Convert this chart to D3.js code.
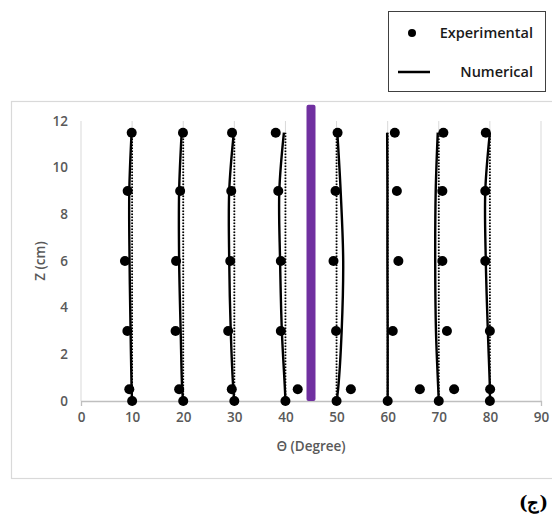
<!DOCTYPE html>
<html>
<head>
<meta charset="utf-8">
<script src="https://cdn.jsdelivr.net/npm/d3@7"></script>
<style>
  body { margin: 0; background: #fff; }
  svg { display: block; }
</style>
</head>
<body>
<svg id="chart"></svg>
<script>
// angles of each profile (degrees) and heights (cm)
const angles = [10, 20, 30, 40, 50, 60, 70, 80];
const zLevels = [0, 0.5, 3, 6, 9, 11.5];
const xTicks = [0, 10, 20, 30, 40, 50, 60, 70, 80, 90];
const yTicks = [0, 2, 4, 6, 8, 10, 12];

// experimental theta at each z level, one row per angle
const expTheta = [
    [10.0, 9.45, 9.07, 8.6, 9.13, 9.92],
    [20.0, 19.2, 18.5, 18.6, 19.4, 19.95],
    [30.0, 29.5, 28.8, 29.2, 29.4, 29.55],
    [40.0, 42.4, 39.1, 39.1, 38.6, 38.1],
    [50.0, 52.8, 49.9, 49.4, 49.8, 50.2],
    [60.0, 66.3, 61.0, 62.1, 61.8, 61.4],
    [70.0, 73.0, 71.6, 70.7, 70.7, 70.9],
    [80.0, 80.05, 80.0, 79.1, 79.1, 79.2]
];

// numerical theta at each z level
const numTheta = [
    [10.0, 9.9, 9.7, 9.5, 9.45, 9.9],
    [20.0, 19.8, 19.5, 19.2, 19.2, 19.7],
    [30.0, 29.8, 29.3, 29.0, 29.0, 29.9],
    [40.0, 39.9, 39.3, 38.95, 38.8, 39.7],
    [50.0, 50.3, 51.0, 51.3, 50.8, 50.15],
    [60.0, 60.0, 60.0, 59.95, 59.95, 59.9],
    [70.0, 69.9, 69.45, 69.3, 69.4, 69.8],
    [80.0, 80.0, 79.6, 79.2, 79.1, 80.0]
];

// the purple marker bar
const barTheta = 45;
const barTop = 12.7;

const width = 552, height = 518;
const svg = d3.select("#chart").attr("width", width).attr("height", height);

const x = d3.scaleLinear().domain([0, 90]).range([81, 541]);
const y = d3.scaleLinear().domain([0, 12]).range([401, 121]);

const fontTick = "'Open Sans', 'DejaVu Sans', sans-serif";

// chart frame
svg.append("rect")
    .attr("x", 11.5).attr("y", 101.5)
    .attr("width", 560).attr("height", 377)
    .attr("fill", "none")
    .attr("stroke", "#d9d9d9")
    .attr("stroke-width", 1.2);

// vertical gridlines
svg.append("g")
    .selectAll("line")
    .data(xTicks)
    .join("line")
    .attr("x1", d => x(d)).attr("x2", d => x(d))
    .attr("y1", y(12)).attr("y2", y(0))
    .attr("stroke", "#d9d9d9")
    .attr("stroke-width", 1);

// x axis
const xAxis = svg.append("g")
    .attr("transform", `translate(0,${y(0)})`)
    .call(d3.axisBottom(x).tickValues(xTicks).tickSize(5).tickPadding(6));
xAxis.select(".domain").attr("stroke", "#bfbfbf").attr("stroke-width", 1.3);
xAxis.selectAll(".tick line").attr("stroke", "#bfbfbf");
xAxis.selectAll("text")
    .attr("fill", "#595959")
    .style("font-family", fontTick)
    .style("font-size", "13.5px")
    .style("font-weight", "600");

// y axis (labels only)
const yAxis = svg.append("g")
    .attr("transform", `translate(${x(0)},0)`)
    .call(d3.axisLeft(y).tickValues(yTicks).tickSize(0).tickPadding(13));
yAxis.select(".domain").remove();
yAxis.selectAll("text")
    .attr("fill", "#595959")
    .style("font-family", fontTick)
    .style("font-size", "13.5px")
    .style("font-weight", "600");

// axis titles
svg.append("text")
    .attr("x", x(45)).attr("y", 451)
    .attr("text-anchor", "middle")
    .attr("fill", "#595959")
    .style("font-family", fontTick)
    .style("font-size", "13.5px")
    .style("font-weight", "600")
    .text("Θ (Degree)");

svg.append("text")
    .attr("transform", `translate(45,${y(6)}) rotate(-90)`)
    .attr("text-anchor", "middle")
    .attr("fill", "#595959")
    .style("font-family", fontTick)
    .style("font-size", "13.5px")
    .style("font-weight", "600")
    .text("Z (cm)");

// purple bar
const barW = 9;
svg.append("rect")
    .attr("x", x(barTheta) - barW / 2)
    .attr("y", y(barTop))
    .attr("width", barW)
    .attr("height", y(0) - y(barTop))
    .attr("rx", 2)
    .attr("fill", "#7030a0");

// dotted reference lines at the initial angle
svg.append("g")
    .selectAll("line")
    .data(angles)
    .join("line")
    .attr("x1", d => x(d)).attr("x2", d => x(d))
    .attr("y1", y(0)).attr("y2", y(zLevels[zLevels.length - 1]))
    .attr("stroke", "#000")
    .attr("stroke-width", 1.8)
    .attr("stroke-dasharray", "1.5,1.5");

// numerical profiles
const line = d3.line()
    .x(d => x(d[0]))
    .y(d => y(d[1]))
    .curve(d3.curveCatmullRom);

svg.append("g")
    .selectAll("path")
    .data(numTheta.map(row => row.map((t, i) => [t, zLevels[i]])))
    .join("path")
    .attr("d", line)
    .attr("fill", "none")
    .attr("stroke", "#000")
    .attr("stroke-width", 2.4);

// experimental points
const pts = [];
expTheta.forEach(row => row.forEach((t, i) => pts.push([t, zLevels[i]])));
svg.append("g")
    .selectAll("circle")
    .data(pts)
    .join("circle")
    .attr("cx", d => x(d[0]))
    .attr("cy", d => y(d[1]))
    .attr("r", 5)
    .attr("fill", "#000");

// legend
const lg = svg.append("g");
lg.append("rect")
    .attr("x", 388.5).attr("y", 11.5)
    .attr("width", 157).attr("height", 80)
    .attr("fill", "#fff")
    .attr("stroke", "#404040")
    .attr("stroke-width", 1);
lg.append("circle").attr("cx", 412).attr("cy", 33).attr("r", 4).attr("fill", "#000");
lg.append("line")
    .attr("x1", 398).attr("x2", 430)
    .attr("y1", 72).attr("y2", 72)
    .attr("stroke", "#000").attr("stroke-width", 2.5);
lg.append("text")
    .attr("x", 533).attr("y", 33).attr("dy", "0.35em")
    .attr("text-anchor", "end")
    .style("font-family", fontTick)
    .style("font-size", "14.5px")
    .style("font-weight", "600")
    .attr("fill", "#1a1a1a")
    .text("Experimental");
lg.append("text")
    .attr("x", 533).attr("y", 72).attr("dy", "0.35em")
    .attr("text-anchor", "end")
    .style("font-family", fontTick)
    .style("font-size", "14.5px")
    .style("font-weight", "600")
    .attr("fill", "#1a1a1a")
    .text("Numerical");

// panel label
svg.append("text")
    .attr("x", 548).attr("y", 509)
    .attr("text-anchor", "end")
    .style("font-family", "'DejaVu Serif', 'Liberation Serif', serif")
    .style("font-size", "18px")
    .style("font-weight", "bold")
    .attr("fill", "#000")
    .text("(ج)");
</script>
</body>
</html>
